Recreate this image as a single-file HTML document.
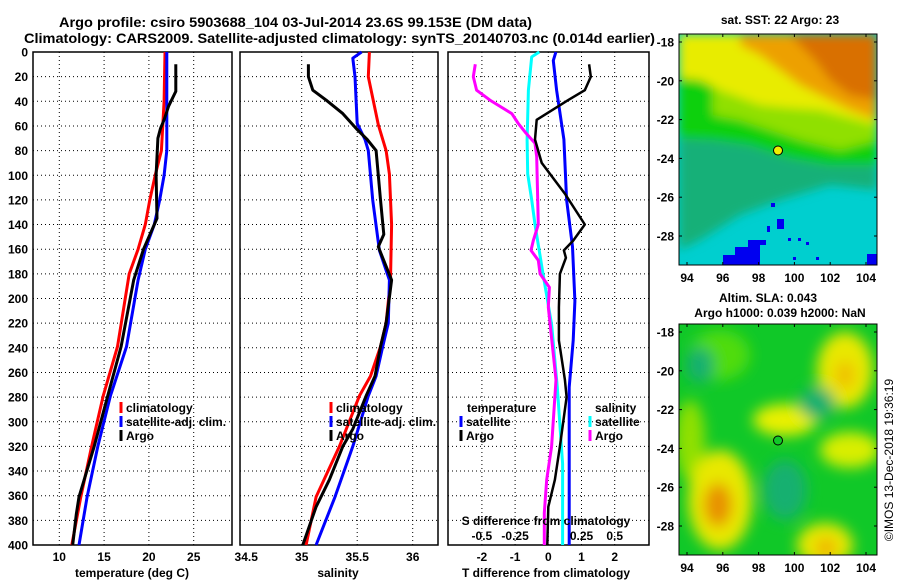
<!DOCTYPE html>
<html><head><meta charset="utf-8"><style>
body{margin:0;background:#fff;}
svg{display:block;font-family:"Liberation Sans",Arial,sans-serif;font-weight:bold;}
</style></head><body>
<svg id="c" width="900" height="580" xmlns="http://www.w3.org/2000/svg">
<defs>
<filter id="bl" x="-20%" y="-20%" width="140%" height="140%"><feGaussianBlur stdDeviation="5"/></filter>
<filter id="bl2" x="-30%" y="-30%" width="160%" height="160%"><feGaussianBlur stdDeviation="7"/></filter>
<clipPath id="cm1"><rect x="679" y="34" width="198" height="231"/></clipPath>
<clipPath id="cm2"><rect x="679" y="324" width="198" height="231"/></clipPath>
</defs>
<text x="59" y="27" font-size="14" textLength="473" lengthAdjust="spacingAndGlyphs">Argo profile: csiro 5903688_104 03-Jul-2014 23.6S 99.153E (DM data)</text>
<text x="24" y="43" font-size="14" textLength="631" lengthAdjust="spacingAndGlyphs">Climatology: CARS2009. Satellite-adjusted climatology: synTS_20140703.nc (0.014d earlier)</text>

<!-- top map -->
<g clip-path="url(#cm1)">
<rect x="679" y="34" width="198" height="231" fill="#00cfcf"/>
<g filter="url(#bl)">
<polygon points="679,34 877,34 877,190 830,185 780,200 740,215 700,240 679,250" fill="#12b078"/>
<polygon points="679,34 877,34 877,165 830,165 790,158 750,145 715,140 679,138" fill="#10d010"/>
<polygon points="713,34 877,34 877,140 840,150 800,140 770,130 740,120 713,115" fill="#90e000"/>
<polygon points="679,34 877,34 877,125 850,118 820,110 790,108 760,105 720,90 700,80 679,78" fill="#e8ec00"/>
<polygon points="740,34 877,34 877,120 850,110 830,100 800,85 780,70 760,55 740,45" fill="#eda000"/>
<polygon points="790,34 877,34 877,100 850,95 830,80 815,60 800,45" fill="#d97000"/>
</g>
<g fill="#0000f0">
<polygon points="723,265 723,255 735,255 735,247 748,247 748,240 766,240 766,245 760,245 760,265"/>
<rect x="867" y="254" width="10" height="11"/>
<rect x="771" y="203" width="4" height="4"/><rect x="777" y="219" width="7" height="10"/><rect x="767" y="226" width="3" height="6"/>
<rect x="788" y="238" width="3" height="3"/><rect x="798" y="238" width="3" height="3"/><rect x="806" y="242" width="3" height="3"/><rect x="793" y="257" width="3" height="3"/><rect x="816" y="257" width="3" height="3"/>
</g>
</g>
<rect x="679" y="34" width="198" height="231" fill="none" stroke="#000" stroke-width="1"/>
<circle cx="778" cy="150.5" r="4.5" fill="#f0f000" stroke="#000" stroke-width="1"/>
<text x="780" y="24" font-size="12" text-anchor="middle">sat. SST: 22 Argo: 23</text>

<!-- bottom map -->
<g clip-path="url(#cm2)">
<rect x="679" y="324" width="198" height="231" fill="#10c828"/>
<g filter="url(#bl2)">
<ellipse cx="720" cy="355" rx="30" ry="25" fill="#50dc10"/>
<ellipse cx="690" cy="440" rx="15" ry="40" fill="#90e000"/>
<ellipse cx="720" cy="500" rx="32" ry="50" fill="#e8e800"/>
<ellipse cx="718" cy="505" rx="14" ry="22" fill="#e89000"/>
<ellipse cx="845" cy="370" rx="28" ry="38" fill="#e8e800"/>
<ellipse cx="845" cy="375" rx="10" ry="14" fill="#f0c000"/>
<ellipse cx="785" cy="420" rx="32" ry="16" fill="#e8f000"/>
<ellipse cx="850" cy="450" rx="30" ry="18" fill="#d8ee00"/>
<ellipse cx="825" cy="545" rx="28" ry="22" fill="#e8e800"/>
<ellipse cx="826" cy="548" rx="10" ry="10" fill="#f0b000"/>
<ellipse cx="817" cy="403" rx="18" ry="16" fill="#18b070"/>
<ellipse cx="785" cy="490" rx="22" ry="30" fill="#18b070"/>
<ellipse cx="700" cy="365" rx="14" ry="18" fill="#18b070"/>
</g>
</g>
<rect x="679" y="324" width="198" height="231" fill="none" stroke="#000" stroke-width="1"/>
<circle cx="778" cy="440.5" r="4.5" fill="#10c828" stroke="#000" stroke-width="1"/>
<text x="768" y="302" font-size="12" text-anchor="middle">Altim. SLA: 0.043</text>
<text x="780" y="317" font-size="12" text-anchor="middle">Argo h1000: 0.039 h2000: NaN</text>
<text transform="translate(893,460) rotate(-90)" font-size="12" font-weight="normal" text-anchor="middle">©IMOS 13-Dec-2018 19:36:19</text>
</svg>
<script>
// ---- data ----
var tempDepthClim=[0,40,80,100,120,140,160,180,239,279,320,361,400];
var tempClim=[21.8,21.7,21.4,20.7,20.1,19.6,18.8,17.8,16.5,14.9,13.6,12.4,11.4];
var tempDepthSat=[0,80,100,120,140,160,185,239,279,320,361,400];
var tempSat=[22.0,22.0,21.7,21.2,20.6,19.6,18.8,17.5,15.7,14.3,13.1,12.2];
var tempDepthArgo=[10,32,44,55,62,70,100,135,145,160,185,239,279,320,361,375,400];
var tempArgo=[23.0,23.0,22.2,21.7,21.3,21.0,20.8,20.9,20.3,19.4,18.3,16.9,15.4,13.9,12.2,11.9,11.5];
var salDepthClim=[0,20,59,80,99,140,185,220,239,263,279,320,361,400];
var salClim=[35.61,35.60,35.69,35.76,35.79,35.81,35.80,35.76,35.71,35.62,35.52,35.34,35.13,35.04];
var salDepthSat=[0,5,20,58,71,80,120,161,185,220,239,263,279,320,361,400];
var salSat=[35.54,35.46,35.48,35.50,35.57,35.60,35.64,35.70,35.79,35.78,35.73,35.67,35.60,35.46,35.30,35.13];
var salDepthArgo=[10,20,31,39,50,63,71,80,120,148,158,167,185,220,239,263,279,306,320,347,369,400];
var salArgo=[35.06,35.06,35.10,35.22,35.37,35.50,35.59,35.67,35.71,35.74,35.69,35.73,35.81,35.76,35.71,35.66,35.58,35.46,35.37,35.25,35.13,35.01];
var diffDepthTSat=[0,7,31,71,120,158,202,234,272,400];
var diffTSat=[0.23,0.15,0.25,0.47,0.55,0.73,0.80,0.75,0.63,0.63];
var diffDepthTArgo=[10,20,31,39,55,71,90,115,140,153,161,167,180,207,234,266,280,320,347,369,400];
var diffTArgo=[1.23,1.28,1.10,0.60,-0.35,-0.40,-0.20,0.50,1.10,0.75,0.47,0.53,0.35,0.32,0.32,0.50,0.55,0.35,0.20,0.0,-0.03];
var diffDepthSSat=[0,4,31,71,99,120,140,180,221,272,334,400];
var diffSSat=[-0.068,-0.125,-0.15,-0.16,-0.155,-0.125,-0.10,-0.04,0.025,0.068,0.108,0.108];
var diffDepthSArgo=[10,20,31,39,50,58,65,74,85,140,153,161,169,180,191,207,266,320,347,374,400];
var diffSArgo=[-0.55,-0.565,-0.54,-0.44,-0.275,-0.226,-0.175,-0.10,-0.087,-0.075,-0.113,-0.13,-0.075,-0.062,0.008,0.0,0.058,0.025,-0.012,-0.03,-0.03];
var depthTicks=[0,20,40,60,80,100,120,140,160,180,200,220,240,260,280,300,320,340,360,380,400];
var tempTicks=[10,15,20,25];
var salTicks=[34.5,35,35.5,36];
var tdTicks=[-2,-1,0,1,2];
var sdTicks=[-0.5,-0.25,0.25,0.5];
var sdTickLabels=['-0.5','-0.25','0.25','0.5'];
var mapLatTicks=[-18,-20,-22,-24,-26,-28];
var mapLonTicks=[94,96,98,100,102,104];

// ---- scales ----
function yD(d){return 52+d*1.2325;}
function xT(t){return 59.3+(t-10)*8.96;}
function xS(s){return 301.7+(s-35)*111;}
function xTD(t){return 548.3+t*33.2;}
function xSD(s){return 548.3+s*132.8;}
function lonX(l){return 687+(l-94)*17.9;}
function latY1(l){return 42+(-18-l)*19.4;}
function latY2(l){return 332+(-18-l)*19.4;}

var svg=document.getElementById('c');
var NS='http://www.w3.org/2000/svg';
function mk(tag,attrs,parent){var e=document.createElementNS(NS,tag);for(var k in attrs)e.setAttribute(k,attrs[k]);(parent||svg).appendChild(e);return e;}
function txt(x,y,s,size,anchor){var t=mk('text',{x:x,y:y,'font-size':size,'text-anchor':anchor||'middle'});t.textContent=s;return t;}

var panels=[{x0:33,x1:232,name:'temperature-panel'},{x0:240,x1:438,name:'salinity-panel'},{x0:448,x1:649,name:'difference-panel'}];
var vgrid=[tempTicks.map(xT),salTicks.slice(1).map(xS),tdTicks.map(xTD)];
panels.forEach(function(p,i){
  var g=mk('g',{});
  
  
  depthTicks.forEach(function(d){
    if(d===0||d===400)return;
    var l=mk('line',{x1:p.x0,x2:p.x1,y1:yD(d),y2:yD(d),stroke:'#000','stroke-width':1,'stroke-dasharray':'1,3'},g);
    
    
  });
  vgrid[i].forEach(function(x){
    var l=mk('line',{x1:x,x2:x,y1:52,y2:545,stroke:'#000','stroke-width':1,'stroke-dasharray':'1,3'},g);
    
    
  });
  var r=mk('rect',{x:p.x0,y:52,width:p.x1-p.x0,height:493,fill:'none',stroke:'#000','stroke-width':1.5},g);
  
  
});
depthTicks.forEach(function(d){
  var t=txt(28,yD(d)+4.5,String(d),12,'end');
  
  
});

function line(xs,ds,fx,color,w,name){
  var pts=xs.map(function(v,i){return fx(v).toFixed(1)+','+yD(ds[i]).toFixed(1);}).join(' ');
  var p=mk('polyline',{points:pts,fill:'none',stroke:color,'stroke-width':w,'stroke-linejoin':'round'});
  
  
}
line(tempClim,tempDepthClim,xT,'#f00',3,'temp-climatology-line');
line(tempSat,tempDepthSat,xT,'#00f',3,'temp-satellite-line');
line(tempArgo,tempDepthArgo,xT,'#000',3,'temp-argo-line');
line(salClim,salDepthClim,xS,'#f00',3,'salinity-climatology-line');
line(salSat,salDepthSat,xS,'#00f',3,'salinity-satellite-line');
line(salArgo,salDepthArgo,xS,'#000',3,'salinity-argo-line');
line(diffSSat,diffDepthSSat,xSD,'#0ff',3,'sdiff-satellite-line');
line(diffSArgo,diffDepthSArgo,xSD,'#f0f',3,'sdiff-argo-line');
line(diffTSat,diffDepthTSat,xTD,'#00f',3,'tdiff-satellite-line');
line(diffTArgo,diffDepthTArgo,xTD,'#000',2.5,'tdiff-argo-line');

tempTicks.forEach(function(v){var t=txt(xT(v),561,String(v),12);});
salTicks.forEach(function(v){var t=txt(xS(v),561,String(v),12);});
tdTicks.forEach(function(v){var t=txt(xTD(v),561,String(v),12);});
sdTicks.forEach(function(v,i){var t=txt(xSD(v),540,sdTickLabels[i],12);});
var a=txt(132,577,'temperature (deg C)',12);
a=txt(338,577,'salinity',12);
a=txt(546,577,'T difference from climatology',12);
a=txt(546,525,'S difference from climatology',12);

function legend(x,y,color,label,name){
  var g=mk('g',{});
  
  
  mk('rect',{x:x-1.5,y:y-6,width:3,height:11,fill:color},g);
  var t=mk('text',{x:x+5,y:y+4,'font-size':12},g);t.textContent=label;
}
legend(121,408,'#f00','climatology','legend-climatology');
legend(121,422,'#00f','satellite-adj. clim.','legend-satellite-adj');
legend(121,436,'#000','Argo','legend-argo');
legend(331,408,'#f00','climatology','legend-sal-climatology');
legend(331,422,'#00f','satellite-adj. clim.','legend-sal-satellite-adj');
legend(331,436,'#000','Argo','legend-sal-argo');
a=txt(467,412,'temperature',12,'start');
legend(461,422,'#00f','satellite','legend-tdiff-satellite');
legend(461,436,'#000','Argo','legend-tdiff-argo');
a=txt(595,412,'salinity',12,'start');
legend(590,422,'#0ff','satellite','legend-sdiff-satellite');
legend(590,436,'#f0f','Argo','legend-sdiff-argo');

// map axes
[[latY1,34,265,282],[latY2,324,555,572]].forEach(function(m){
  mapLatTicks.forEach(function(l){
    var t=txt(674,m[0](l)+4.5,String(l),12,'end');
    
    
    mk('line',{x1:679,x2:682,y1:m[0](l),y2:m[0](l),stroke:'#000'});
    mk('line',{x1:874,x2:877,y1:m[0](l),y2:m[0](l),stroke:'#000'});
  });
  mapLonTicks.forEach(function(l){
    var t=txt(lonX(l),m[3],String(l),12);
    
    
    mk('line',{x1:lonX(l),x2:lonX(l),y1:m[2]-3,y2:m[2],stroke:'#000'});
    mk('line',{x1:lonX(l),x2:lonX(l),y1:m[1],y2:m[1]+3,stroke:'#000'});
  });
});
</script>
</body></html>
